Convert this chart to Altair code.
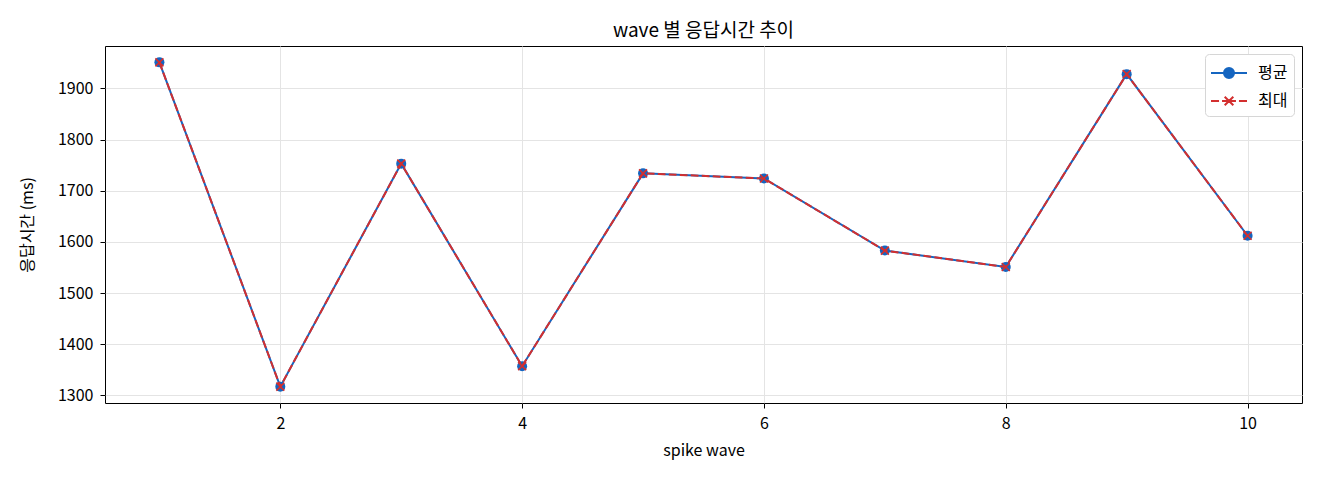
import altair as alt
import pandas as pd

# wave 별 응답시간 (ms)
waves = [1, 2, 3, 4, 5, 6, 7, 8, 9, 10]
avg_ms = [1951, 1317, 1753, 1357, 1734, 1724, 1583, 1551, 1928, 1612]
max_ms = [1951, 1317, 1753, 1357, 1734, 1724, 1583, 1551, 1928, 1612]
series = ["평균", "최대"]
x_ticks = [2, 4, 6, 8, 10]
y_ticks = [1300, 1400, 1500, 1600, 1700, 1800, 1900]

BLUE = "#1565c0"
RED = "#d32f2f"
FONT = "Noto Sans CJK KR"

df = pd.DataFrame({"wave": waves, "avg_ms": avg_ms, "max_ms": max_ms})

x = alt.X("wave:Q", title="spike wave",
          scale=alt.Scale(domain=[0.55, 10.45], nice=False, zero=False),
          axis=alt.Axis(values=x_ticks, format="d"))

def y(field):
    return alt.Y(f"{field}:Q", title="응답시간 (ms)",
                 scale=alt.Scale(domain=[1285, 1983], nice=False, zero=False),
                 axis=alt.Axis(values=y_ticks, format="d"))

base = alt.Chart(df)

avg_line = base.mark_line(color=BLUE, strokeWidth=2).encode(x=x, y=y("avg_ms"))
avg_pts = base.mark_circle(color=BLUE, size=100, opacity=1).encode(x=x, y=y("avg_ms"))
max_line = base.mark_line(color=RED, strokeWidth=2, strokeDash=[7.7, 3.3]).encode(
    x=x, y=y("max_ms"))
max_pts = base.mark_point(shape="M-1,-1L1,1M-1,1L1,-1", color=RED, filled=False,
                          size=64, strokeWidth=1.6, opacity=1).encode(x=x, y=y("max_ms"))

# legend symbols: line + marker, drawn in legend only
avg_sym = ("M-1.5,0H1.5M-0.42,0A0.42,0.42 0 1,0 0.42,0"
           "A0.42,0.42 0 1,0 -0.42,0Z")
max_sym = ("M-1.5,0H-0.83M-0.58,0H0.58M0.83,0H1.5"
           "M-0.36,-0.36L0.36,0.36M-0.36,0.36L0.36,-0.36")

legend_df = pd.DataFrame({"series": series, "wave": [1, 1], "max_ms": [1500, 1500]})
leg = alt.Legend(title=None, orient="top-right", offset=8)
legend_layer = alt.Chart(legend_df).mark_point(filled=True, strokeWidth=2).encode(
    x=x, y=y("max_ms"),
    color=alt.Color("series:N", scale=alt.Scale(domain=series, range=[BLUE, RED]),
                    legend=leg),
    stroke=alt.Stroke("series:N", scale=alt.Scale(domain=series, range=[BLUE, RED]),
                      legend=leg),
    shape=alt.Shape("series:N", scale=alt.Scale(domain=series, range=[avg_sym, max_sym]),
                    legend=leg),
).transform_filter("false")

chart = alt.layer(avg_line, avg_pts, max_line, max_pts, legend_layer).properties(
    width=1197, height=357,
    title=alt.TitleParams("wave 별 응답시간 추이", fontSize=19, fontWeight="normal",
                          font=FONT, color="#000", offset=5),
    autosize=alt.AutoSizeParams(type="none"),
    padding={"left": 97, "top": 38, "right": 10, "bottom": 60},
).configure_view(
    stroke="#000", strokeWidth=1
).configure_axis(
    labelFont=FONT, titleFont=FONT, labelFontSize=16, titleFontSize=16,
    labelColor="#000", titleColor="#000", titleFontWeight="normal",
    domain=False, tickColor="#000", tickSize=5, tickWidth=1,
    gridColor="#e4e4e4", gridWidth=1,
).configure_axisX(
    labelPadding=7, titlePadding=11
).configure_axisY(
    labelPadding=7, titlePadding=22
).configure_legend(
    labelFont=FONT, labelFontSize=16, labelColor="#000",
    fillColor="#fff", strokeColor="#d6d6d6", cornerRadius=4, padding=6,
    symbolSize=576, symbolStrokeWidth=2, symbolOffset=5, labelOffset=16,
    rowPadding=5, symbolOpacity=1,
)

chart.save("out.html", embed_options={"renderer": "svg", "actions": False})
